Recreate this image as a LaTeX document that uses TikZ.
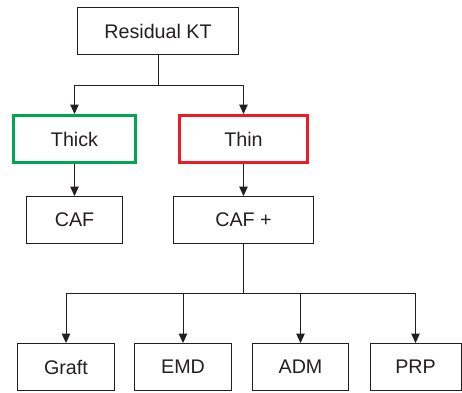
\documentclass[tikz,border=0pt]{standalone}
\usepackage{fontspec}
\setmainfont{Liberation Sans}
\usetikzlibrary{arrows.meta}
\definecolor{boxgreen}{RGB}{0,166,81}
\definecolor{boxred}{RGB}{237,28,36}
\definecolor{ink}{RGB}{35,31,32}
\begin{document}
\begin{tikzpicture}[x=1pt,y=1pt,
  box/.style={draw=ink,line width=0.9pt,rectangle,minimum height=47pt,inner sep=0pt,font=\fontsize{19.7}{22}\selectfont,text=ink},
  thickbox/.style={box,line width=3pt,minimum height=47pt},
  conn/.style={draw=ink,line width=1pt},
  arr/.style={conn,-{Triangle[length=9.5pt,width=8.5pt]}}]
\useasboundingbox (0,0) rectangle (462,-392);
\node[box,minimum width=161pt] (res) at (158,-31) {Residual KT};
\node[thickbox,draw=boxgreen,minimum width=122pt] (thick) at (74.5,-139) {Thick};
\node[thickbox,draw=boxred,minimum width=128pt] (thin) at (243.5,-139) {Thin};
\node[box,minimum width=96pt] (caf) at (74.5,-220) {CAF};
\node[box,minimum width=140pt] (cafp) at (243.5,-220) {CAF +};
\node[box,minimum width=97pt] (graft) at (66,-367) {Graft};
\node[box,minimum width=97pt] (emd) at (183,-367) {EMD};
\node[box,minimum width=96pt] (adm) at (300.5,-367) {ADM};
\node[box,minimum width=91pt] (prp) at (415.5,-367) {PRP};
\coordinate (j1) at (158,-85);
\coordinate (j2) at (243.5,-293);
\draw[conn] (res.south) -- (j1);
\draw[arr] (j1) -| (thick.north);
\draw[arr] (j1) -| (thin.north);
\draw[arr] (thick.south) -- (caf.north);
\draw[arr] (thin.south) -- (cafp.north);
\draw[conn] (cafp.south) -- (j2);
\draw[arr] (j2) -| (graft.north);
\draw[arr] (j2) -| (emd.north);
\draw[arr] (j2) -| (adm.north);
\draw[arr] (j2) -| (prp.north);
\end{tikzpicture}
\end{document}
